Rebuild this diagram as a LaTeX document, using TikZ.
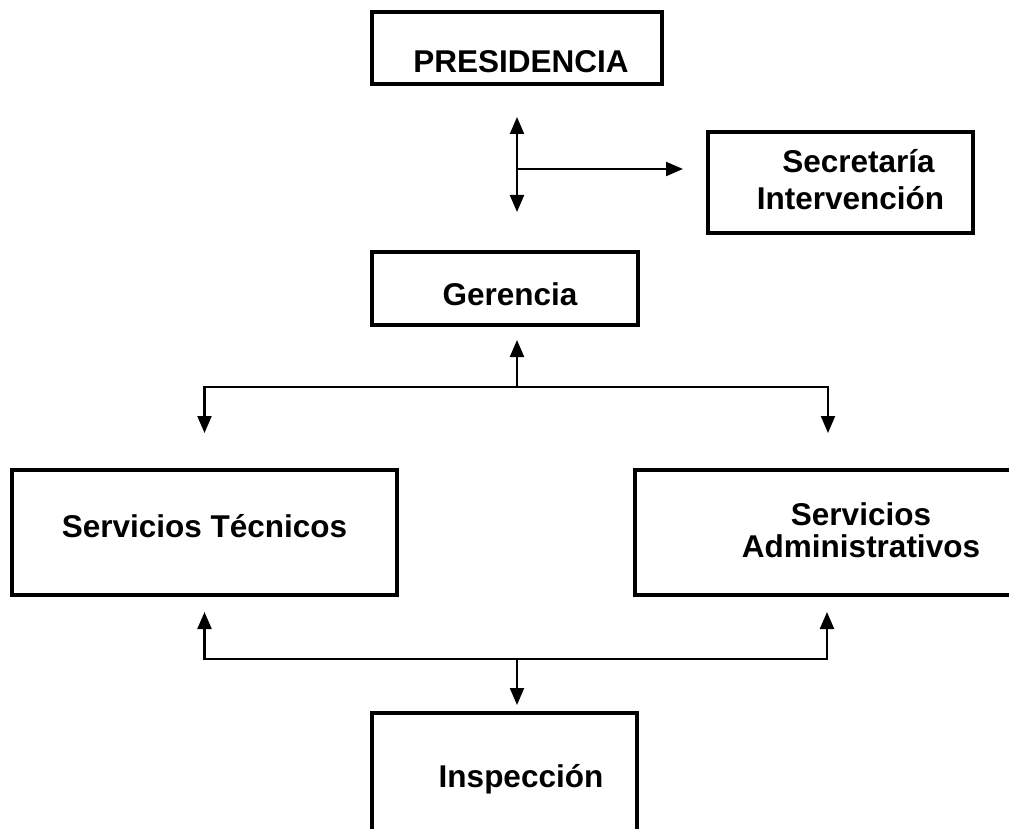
\documentclass[tikz,border=0pt]{standalone}
\usepackage{fontspec}
\setmainfont{Liberation Sans}
\usetikzlibrary{arrows.meta,calc}
\tikzset{orgbox/.style={rectangle,draw=black,line width=4pt,fill=white,inner sep=0pt,align=center,font=\bfseries\fontsize{31.5}{37}\selectfont}}
\tikzset{toArrow/.style={-{Triangle[length=17pt,width=14pt]},line width=2.2pt}}
\tikzset{bothArrow/.style={{Triangle[length=17pt,width=14pt]}-{Triangle[length=17pt,width=14pt]},line width=2.2pt}}

\begin{document}
\begin{tikzpicture}[x=1pt,y=-1pt]
\useasboundingbox (0,0) rectangle (1009,829);
% the boxes
\node (pres) [orgbox,minimum width=290pt,minimum height=72pt,text height=50pt,text depth=0pt] at (517,48) {\hspace*{8pt}PRESIDENCIA};
\node (sec) [orgbox,minimum width=265pt,minimum height=101pt,text height=55pt,text depth=0pt] at (840.5,182.5) {\hspace*{36pt}Secretaría\\\hspace*{20pt}Intervención};
\node (ger) [orgbox,minimum width=266pt,minimum height=73pt,text height=33pt,text depth=0pt] at (505,288.5) {\hspace*{10pt}Gerencia};
\node (tec) [orgbox,minimum width=385pt,minimum height=125pt,text height=22pt,text depth=13pt] at (204.5,532.5) {Servicios Técnicos};
\node (adm) [orgbox,minimum width=452pt,minimum height=125pt,text height=49pt,text depth=0pt] at (861,532.5) {Servicios\\[-5pt]Administrativos};
\node (ins) [orgbox,minimum width=265pt,minimum height=148pt,text height=20pt,text depth=20pt] at (504.5,787) {\hspace*{33pt}Inspección};

% the connectors
\coordinate (pv) at (517,169);
\coordinate (topbar) at (517,387);
\coordinate (botbar) at (517,659);
\draw[bothArrow] ($(pres.south)+(0,31)$) -- ($(pres.south)+(0,126)$);
\draw[toArrow] (pv) -- ($(pv -| sec.west)+(-23,0)$);
\draw[toArrow] (topbar) -- ($(topbar |- ger.south)+(0,13)$);
\draw[toArrow] (topbar) -| ($(tec.north)+(0,-35)$);
\draw[toArrow] (topbar) -| ($(adm.north west)+(195,-35)$);
\draw[toArrow] (botbar) -| ($(tec.south)+(0,15)$);
\draw[toArrow] (botbar) -| ($(adm.south west)+(194,15)$);
\draw[toArrow] (botbar) -- ($(botbar |- ins.north)+(0,-6)$);
\end{tikzpicture}
\end{document}
